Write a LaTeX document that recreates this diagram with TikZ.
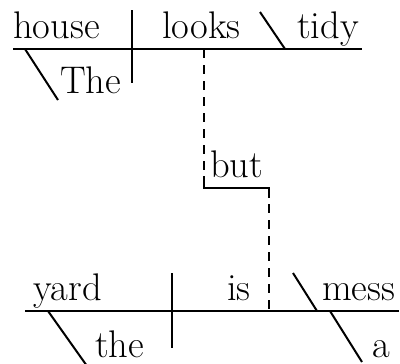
\documentclass[tikz,border=0pt]{standalone}
\begin{document}
\begin{tikzpicture}[x=1pt,y=-1pt,
  word/.style={anchor=base west,inner sep=0pt,font=\fontsize{38.5}{42}\selectfont},
  ln/.style={line width=2pt},
  dl/.style={line width=2pt,dash pattern=on 9pt off 7pt}]
\useasboundingbox (0,0) rectangle (400,364);
% words
\node[word] (house) at (13,38) {house};
\node[word] (looks) at (162,38) {looks};
\node[word] (tidy) at (297,38) {tidy};
\node[word] (The) at (60,93) {The};
\node[word] (but) at (210,177) {but};
\node[word] (yard) at (33,300) {yard};
\node[word] (is) at (227,300) {is};
\node[word] (mess) at (322,300) {mess};
\node[word] (the) at (95,357) {the};
\node[word] (a) at (372,357) {a};
% top clause
\coordinate (t1) at (13,49); \coordinate (t2) at (362,49);
\coordinate (tv1) at (132,10); \coordinate (tv2) at (132,83);
\coordinate (ts1) at (260,12); \coordinate (ts2) at (285,49);
\coordinate (tm1) at (25,49); \coordinate (tm2) at (58,100);
\draw[ln] (t1) -- (t2);
\draw[ln] (tv1) -- (tv2);
\draw[ln] (ts1) -- (ts2);
\draw[ln] (tm1) -- (tm2);
% bottom clause
\coordinate (b1) at (25,311); \coordinate (b2) at (399,311);
\coordinate (bv1) at (172,273); \coordinate (bv2) at (172,348);
\coordinate (bs1) at (293,273); \coordinate (bs2) at (317,311);
\coordinate (bm1) at (48,311); \coordinate (bm2) at (87,366);
\coordinate (bn1) at (330,311); \coordinate (bn2) at (362,362);
\draw[ln] (b1) -- (b2);
\draw[ln] (bv1) -- (bv2);
\draw[ln] (bs1) -- (bs2);
\draw[ln] (bm1) -- (bm2);
\draw[ln] (bn1) -- (bn2);
% conjunction
\coordinate (c1) at (204,49); \coordinate (c2) at (204,188);
\coordinate (c3) at (269,188); \coordinate (c4) at (269,311);
\draw[dl] (c1) -- (c2);
\draw[ln] (204,176) -- (c2) -- (c3) -- (269,198);
\draw[dl] (c3) -- (c4);
\end{tikzpicture}
\end{document}
